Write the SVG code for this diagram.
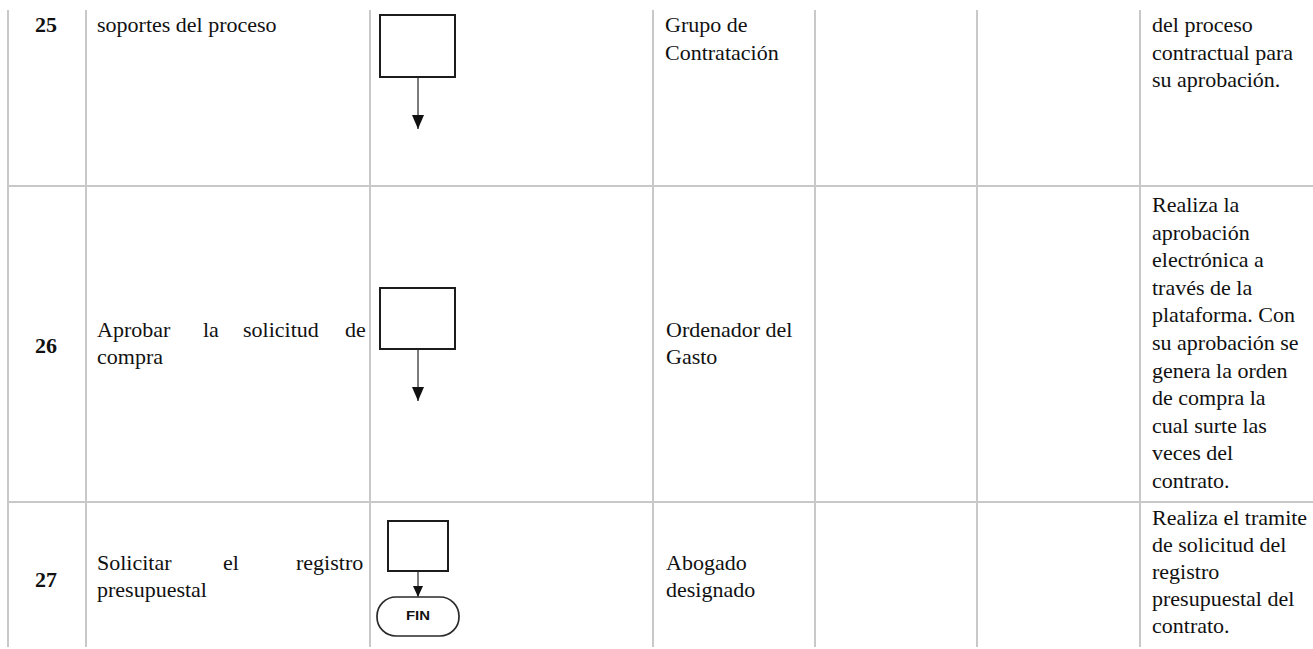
<svg xmlns="http://www.w3.org/2000/svg" width="1313" height="649" viewBox="0 0 1313 649">
<style>
.grid{stroke:#c8c8c8;stroke-width:2;fill:none}
.t{font-family:"Liberation Serif","Times New Roman",serif;font-size:22px;fill:#111}
.n{font-family:"Liberation Serif","Times New Roman",serif;font-size:22px;font-weight:bold;fill:#111}
.box{fill:#fff;stroke:#1c1c1c;stroke-width:2}
.term{fill:#fff;stroke:#2a2a2a;stroke-width:1.7}
.fin{font-family:"Liberation Sans",Arial,sans-serif;font-size:12.5px;font-weight:bold;fill:#111;text-anchor:middle}
.conn{stroke:#444;stroke-width:1.4;fill:none}
</style>
<defs>
<marker id="ah" markerUnits="userSpaceOnUse" markerWidth="14" markerHeight="12" refX="14" refY="6" orient="auto">
<path d="M0,0 L14,6 L0,12 z" fill="#111"/>
</marker>
<marker id="ahs" markerUnits="userSpaceOnUse" markerWidth="11" markerHeight="10" refX="11" refY="5" orient="auto">
<path d="M0,0 L11,5 L0,10 z" fill="#111"/>
</marker>
</defs>
<rect width="1313" height="649" fill="#fff"/>
<g id="grid">
<line class="grid" x1="8" y1="10" x2="8" y2="647"/>
<line class="grid" x1="86" y1="10" x2="86" y2="647"/>
<line class="grid" x1="370" y1="10" x2="370" y2="647"/>
<line class="grid" x1="653" y1="10" x2="653" y2="647"/>
<line class="grid" x1="815" y1="10" x2="815" y2="647"/>
<line class="grid" x1="977" y1="10" x2="977" y2="647"/>
<line class="grid" x1="1140" y1="10" x2="1140" y2="647"/>
<line class="grid" x1="7" y1="186" x2="1313" y2="186"/>
<line class="grid" x1="7" y1="502" x2="1313" y2="502"/>
</g>
<g id="row25">
<text class="n" x="35" y="32">25</text>
<text class="t" x="97" y="32">soportes del proceso</text>
<text class="t" x="665" y="32">Grupo de</text>
<text class="t" x="665" y="60">Contratación</text>
<text class="t" x="1152" y="32">del proceso</text>
<text class="t" x="1152" y="60">contractual para</text>
<text class="t" x="1152" y="87">su aprobación.</text>
</g>
<g id="row26">
<text class="n" x="35" y="353">26</text>
<text class="t" y="337"><tspan x="97">Aprobar</tspan><tspan x="203">la</tspan><tspan x="243">solicitud</tspan><tspan x="345">de</tspan></text>
<text class="t" x="97" y="364">compra</text>
<text class="t" x="666" y="337">Ordenador del</text>
<text class="t" x="666" y="364">Gasto</text>
<text class="t" x="1152" y="212">Realiza la</text>
<text class="t" x="1152" y="239.6">aprobación</text>
<text class="t" x="1152" y="267.2">electrónica a</text>
<text class="t" x="1152" y="294.8">través de la</text>
<text class="t" x="1152" y="322.4">plataforma. Con</text>
<text class="t" x="1152" y="350">su aprobación se</text>
<text class="t" x="1152" y="377.6">genera la orden</text>
<text class="t" x="1152" y="405.2">de compra la</text>
<text class="t" x="1152" y="432.8">cual surte las</text>
<text class="t" x="1152" y="460.4">veces del</text>
<text class="t" x="1152" y="488">contrato.</text>
</g>
<g id="row27">
<text class="n" x="35" y="587">27</text>
<text class="t" y="570"><tspan x="97">Solicitar</tspan><tspan x="223">el</tspan><tspan x="296">registro</tspan></text>
<text class="t" x="97" y="597">presupuestal</text>
<text class="t" x="666" y="570">Abogado</text>
<text class="t" x="666" y="597">designado</text>
<text class="t" x="1152" y="525">Realiza el tramite</text>
<text class="t" x="1152" y="552">de solicitud del</text>
<text class="t" x="1152" y="579">registro</text>
<text class="t" x="1152" y="606">presupuestal del</text>
<text class="t" x="1152" y="633">contrato.</text>
</g>
<g id="node-p25"><rect class="box" x="380" y="15" width="75" height="62"/></g>
<g id="node-p26"><rect class="box" x="380" y="288" width="75" height="61"/></g>
<g id="node-p27"><rect class="box" x="388" y="521" width="60" height="50"/></g>
<g id="node-fin"><rect class="term" x="377" y="597" width="82" height="39" rx="19" ry="19"/><text class="fin" x="418" y="620" textLength="24" lengthAdjust="spacingAndGlyphs">FIN</text></g>
<g id="connectors">
<line class="conn" x1="418" y1="78" x2="418" y2="129" marker-end="url(#ah)"/>
<line class="conn" x1="418" y1="350" x2="418" y2="401" marker-end="url(#ah)"/>
<line class="conn" x1="418" y1="572" x2="418" y2="597" marker-end="url(#ahs)"/>
</g>
</svg>
